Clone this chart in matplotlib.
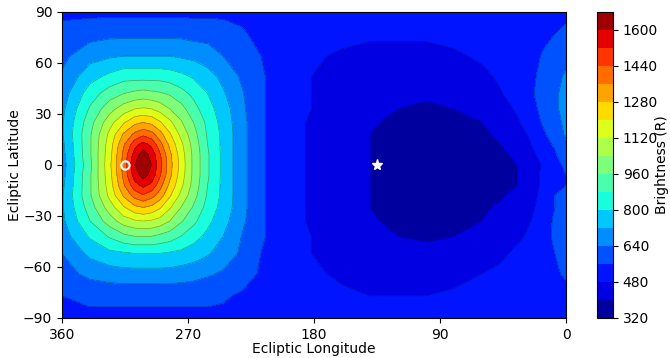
import matplotlib
matplotlib.use("Agg")
import matplotlib.pyplot as plt
import numpy as np

# grid (deg) and brightness at each node (R)
lon = [0, 8, 16, 25, 35, 47, 60, 80, 100, 120, 140, 160, 182, 202, 218, 232, 245, 256,
       266, 275, 283, 290, 296, 302, 308, 316, 326, 340, 360]
lat = [-90, -77, -64, -52, -42, -33, -25, -18, -12, -6, 0, 6, 12, 18, 25, 33, 42, 52, 64, 77, 90]

brightness = [
    [540, 540, 540, 540, 540, 540, 540, 520, 520, 510, 510, 520, 530, 540, 540, 540, 540, 540, 540, 540, 540, 540, 540, 540, 540, 540, 540, 540, 540],
    [540, 540, 540, 540, 530, 520, 510, 490, 480, 480, 480, 490, 500, 530, 540, 550, 570, 580, 580, 580, 580, 580, 580, 580, 580, 580, 580, 580, 560],
    [570, 550, 540, 520, 510, 490, 480, 460, 450, 450, 450, 470, 490, 510, 550, 600, 630, 650, 670, 680, 690, 690, 690, 690, 690, 690, 680, 660, 610],
    [580, 560, 530, 510, 490, 470, 450, 430, 420, 420, 430, 450, 480, 510, 560, 630, 680, 730, 760, 780, 790, 800, 800, 800, 800, 790, 780, 740, 640],
    [580, 570, 540, 490, 470, 450, 430, 400, 390, 400, 420, 440, 480, 520, 570, 640, 720, 780, 830, 880, 920, 940, 960, 960, 960, 940, 890, 810, 680],
    [580, 570, 530, 480, 450, 430, 400, 390, 380, 380, 410, 440, 470, 520, 570, 660, 750, 820, 900, 970, 1040, 1090, 1110, 1120, 1110, 1080, 1000, 880, 700],
    [580, 560, 530, 460, 430, 410, 390, 370, 370, 370, 400, 440, 470, 520, 570, 670, 770, 850, 950, 1040, 1130, 1210, 1260, 1280, 1260, 1190, 1080, 920, 710],
    [570, 560, 510, 450, 420, 390, 380, 360, 360, 370, 400, 440, 470, 520, 570, 670, 780, 870, 990, 1100, 1210, 1320, 1390, 1430, 1390, 1290, 1140, 950, 710],
    [560, 540, 500, 440, 400, 390, 370, 360, 350, 370, 400, 430, 470, 520, 570, 670, 780, 880, 1010, 1140, 1260, 1390, 1500, 1540, 1490, 1350, 1160, 950, 700],
    [560, 540, 510, 430, 400, 380, 370, 360, 350, 370, 400, 430, 470, 520, 570, 670, 780, 890, 1020, 1160, 1300, 1450, 1570, 1630, 1560, 1380, 1170, 950, 690],
    [580, 530, 490, 440, 400, 380, 370, 360, 350, 370, 400, 430, 470, 520, 570, 670, 780, 890, 1020, 1170, 1310, 1470, 1600, 1660, 1600, 1390, 1180, 940, 680],
    [610, 550, 510, 460, 410, 390, 370, 360, 350, 370, 400, 430, 470, 520, 570, 670, 780, 890, 1020, 1160, 1300, 1450, 1570, 1640, 1560, 1380, 1170, 950, 690],
    [630, 570, 530, 480, 420, 400, 380, 370, 360, 370, 400, 440, 470, 520, 570, 670, 780, 880, 1010, 1140, 1260, 1390, 1500, 1550, 1490, 1350, 1160, 950, 700],
    [650, 600, 550, 500, 430, 410, 390, 370, 370, 370, 400, 440, 470, 520, 570, 670, 780, 870, 990, 1100, 1210, 1310, 1390, 1420, 1380, 1290, 1140, 950, 710],
    [660, 610, 570, 520, 470, 420, 400, 390, 380, 380, 410, 440, 470, 520, 570, 670, 770, 860, 960, 1050, 1140, 1210, 1260, 1280, 1260, 1190, 1090, 930, 710],
    [660, 630, 590, 530, 490, 450, 420, 400, 390, 400, 410, 440, 480, 520, 570, 660, 760, 830, 910, 990, 1040, 1090, 1120, 1130, 1120, 1080, 1010, 890, 700],
    [660, 630, 590, 550, 510, 475, 440, 420, 410, 410, 430, 450, 480, 520, 570, 650, 730, 800, 860, 910, 950, 970, 980, 990, 980, 960, 920, 840, 680],
    [650, 620, 590, 540, 500, 490, 465, 450, 440, 440, 440, 460, 480, 520, 570, 630, 700, 750, 790, 820, 840, 850, 850, 850, 850, 850, 820, 770, 650],
    [620, 600, 570, 530, 510, 500, 490, 470, 460, 460, 460, 470, 490, 520, 560, 610, 640, 680, 700, 710, 720, 720, 720, 720, 720, 720, 710, 690, 620],
    [580, 560, 540, 540, 530, 520, 510, 500, 490, 490, 490, 500, 510, 530, 540, 570, 600, 610, 610, 620, 620, 620, 620, 620, 620, 620, 620, 610, 590],
    [540, 540, 540, 540, 540, 540, 540, 530, 520, 520, 520, 520, 530, 540, 540, 540, 540, 540, 540, 540, 540, 540, 540, 540, 540, 540, 540, 540, 540],
]

# marked directions
circle_lon, circle_lat = 315, 0
star_lon, star_lat = 135, 0

levels = np.arange(320, 1681, 80)

fig = plt.figure(figsize=(6.7, 3.58), dpi=100)
ax = fig.add_axes([0.0925, 0.112, 0.7525, 0.8545])
cax = fig.add_axes([0.891, 0.112, 0.0239, 0.8545])

cf = ax.contourf(lon, lat, brightness, levels=levels, cmap="jet")
ax.contour(lon, lat, brightness, levels=levels, colors="k", linewidths=0.5, alpha=0.35)
ax.plot([circle_lon], [circle_lat], "o", mfc="none", mec="white", mew=1.5, ms=6)
ax.plot([star_lon], [star_lat], "*", color="white", ms=8)

ax.set_xlim(360, 0)
ax.set_ylim(-90, 90)
ax.set_xticks([360, 270, 180, 90, 0])
ax.set_yticks(np.arange(-90, 91, 30))
ax.set_xlabel("Ecliptic Longitude", labelpad=0)
ax.set_ylabel("Ecliptic Latitude", labelpad=1)

cb = fig.colorbar(cf, cax=cax, ticks=np.arange(320, 1601, 160))
cb.set_label("Brightness (R)", labelpad=-2)

fig.savefig("out.png", dpi=100)
